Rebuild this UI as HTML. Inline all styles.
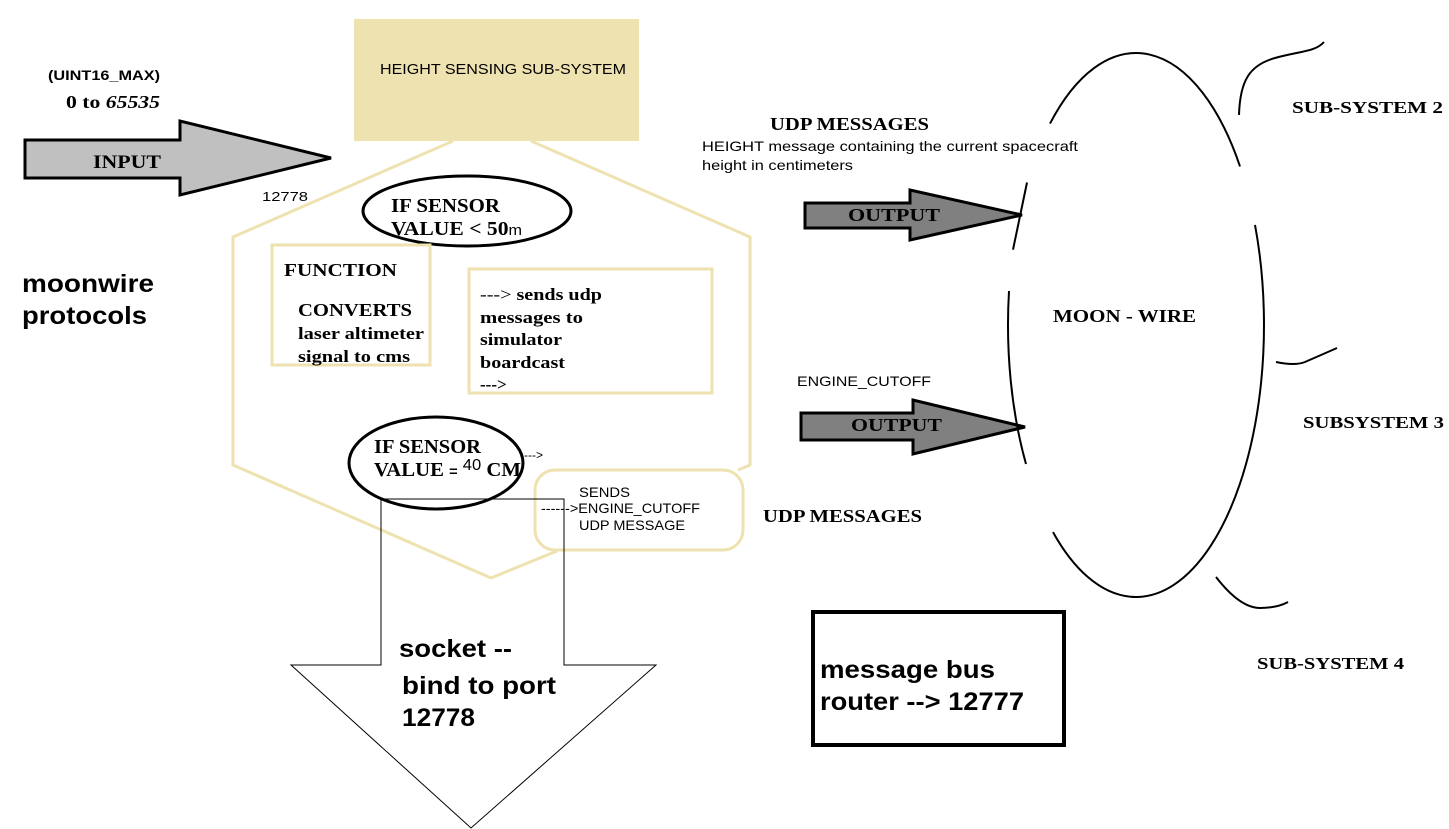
<!DOCTYPE html>
<html><head><meta charset="utf-8"><style>
html,body{margin:0;padding:0;background:#fff;}
svg{display:block;}
.s{font-family:"Liberation Serif",serif;font-weight:bold;}
.a{font-family:"Liberation Sans",sans-serif;}
.ab{font-family:"Liberation Sans",sans-serif;font-weight:bold;}
</style></head><body>
<svg width="1449" height="829" viewBox="0 0 1449 829" xmlns="http://www.w3.org/2000/svg">
<polyline points="453,141 233,237 233,465 491,578 557,551" fill="none" stroke="#EEE2B0" stroke-width="3"/>
<polyline points="531,141 750,237 750,465 738,470" fill="none" stroke="#EEE2B0" stroke-width="3"/>
<rect x="354" y="19" width="285" height="122" fill="#EEE2B0"/>
<text x="380" y="74" class="a" font-size="15" textLength="246" lengthAdjust="spacingAndGlyphs">HEIGHT SENSING SUB-SYSTEM</text>

<text x="48" y="80" class="ab" font-size="14" textLength="112" lengthAdjust="spacingAndGlyphs">(UINT16_MAX)</text>
<text x="66" y="108" class="s" font-size="18" textLength="94" lengthAdjust="spacingAndGlyphs">0 to <tspan font-style="italic">65535</tspan></text>
<polygon points="25,140 180,140 180,121 331,158 180,195 180,178 25,178" fill="#C0C0C0" stroke="#000" stroke-width="3"/>
<text x="93" y="168" class="s" font-size="19" textLength="68" lengthAdjust="spacingAndGlyphs">INPUT</text>
<text x="262" y="201" class="a" font-size="13" textLength="46" lengthAdjust="spacingAndGlyphs">12778</text>

<text x="22" y="292" class="ab" font-size="25" textLength="132" lengthAdjust="spacingAndGlyphs">moonwire</text>
<text x="22" y="324" class="ab" font-size="25" textLength="125" lengthAdjust="spacingAndGlyphs">protocols</text>

<ellipse cx="467" cy="211" rx="104" ry="35" fill="none" stroke="#000" stroke-width="3"/>
<text x="391" y="212" class="s" font-size="20" textLength="109" lengthAdjust="spacingAndGlyphs">IF SENSOR</text>
<text x="391" y="235" class="s" font-size="20" textLength="131" lengthAdjust="spacingAndGlyphs">VALUE &lt; 50<tspan class="a" font-weight="normal" font-size="15">m</tspan></text>

<rect x="272" y="245" width="158" height="120" fill="none" stroke="#EEE2B0" stroke-width="3"/>
<text x="284" y="276" class="s" font-size="18" textLength="113" lengthAdjust="spacingAndGlyphs">FUNCTION</text>
<text x="298" y="316" class="s" font-size="18" textLength="114" lengthAdjust="spacingAndGlyphs">CONVERTS</text>
<text x="298" y="339" class="s" font-size="17" textLength="126" lengthAdjust="spacingAndGlyphs">laser altimeter</text>
<text x="298" y="362" class="s" font-size="17" textLength="112" lengthAdjust="spacingAndGlyphs">signal to cms</text>

<rect x="469" y="269" width="243" height="124" fill="none" stroke="#EEE2B0" stroke-width="3"/>
<text x="480" y="300" class="s" font-size="17" textLength="122" lengthAdjust="spacingAndGlyphs"><tspan font-weight="normal">---&gt;</tspan> sends udp</text>
<text x="480" y="323" class="s" font-size="17" textLength="103" lengthAdjust="spacingAndGlyphs">messages to</text>
<text x="480" y="345" class="s" font-size="17" textLength="82" lengthAdjust="spacingAndGlyphs">simulator</text>
<text x="480" y="368" class="s" font-size="17" textLength="85" lengthAdjust="spacingAndGlyphs">boardcast</text>
<text x="480" y="390" class="s" font-size="17" font-weight="normal">---&gt;</text>

<rect x="535" y="470" width="208" height="80" rx="20" fill="#fff" stroke="#EEE2B0" stroke-width="3"/>
<polygon points="381,499 564,499 564,665 656,665 471,828 291,665 381,665" fill="none" stroke="#000" stroke-width="1"/>
<ellipse cx="436" cy="463" rx="87" ry="46" fill="none" stroke="#000" stroke-width="3"/>
<text x="374" y="453" class="s" font-size="20" textLength="107" lengthAdjust="spacingAndGlyphs">IF SENSOR</text>
<text x="374" y="476" class="s" font-size="20" textLength="147" lengthAdjust="spacingAndGlyphs">VALUE <tspan class="a" font-size="14">=</tspan> <tspan class="a" font-weight="normal" font-size="16" dy="-6">40</tspan><tspan dy="6"> CM</tspan></text>
<text x="524" y="459" class="a" font-size="12">---&gt;</text>
<text x="579" y="497" class="a" font-size="14" textLength="51" lengthAdjust="spacingAndGlyphs">SENDS</text>
<text x="541" y="513" class="a" font-size="14" textLength="159" lengthAdjust="spacingAndGlyphs">------&gt;ENGINE_CUTOFF</text>
<text x="579" y="530" class="a" font-size="14" textLength="106" lengthAdjust="spacingAndGlyphs">UDP MESSAGE</text>

<text x="399" y="657" class="ab" font-size="25" textLength="113" lengthAdjust="spacingAndGlyphs">socket --</text>
<text x="402" y="694" class="ab" font-size="25" textLength="154" lengthAdjust="spacingAndGlyphs">bind to port</text>
<text x="402" y="726" class="ab" font-size="25" textLength="73" lengthAdjust="spacingAndGlyphs">12778</text>

<text x="770" y="130" class="s" font-size="18" textLength="159" lengthAdjust="spacingAndGlyphs">UDP MESSAGES</text>
<text x="702" y="151" class="a" font-size="14" textLength="376" lengthAdjust="spacingAndGlyphs">HEIGHT message containing the current spacecraft</text>
<text x="702" y="170" class="a" font-size="14" textLength="151" lengthAdjust="spacingAndGlyphs">height in centimeters</text>
<polygon points="805,203 910,203 910,190 1022,215 910,240 910,228 805,228" fill="#808080" stroke="#000" stroke-width="3"/>
<text x="848" y="221" class="s" font-size="18" textLength="92" lengthAdjust="spacingAndGlyphs">OUTPUT</text>
<text x="797" y="386" class="a" font-size="14" textLength="134" lengthAdjust="spacingAndGlyphs">ENGINE_CUTOFF</text>
<polygon points="801,413 913,413 913,400 1025,427 913,454 913,440 801,440" fill="#808080" stroke="#000" stroke-width="3"/>
<text x="851" y="431" class="s" font-size="18" textLength="91" lengthAdjust="spacingAndGlyphs">OUTPUT</text>
<text x="763" y="522" class="s" font-size="18" textLength="159" lengthAdjust="spacingAndGlyphs">UDP MESSAGES</text>

<g fill="none" stroke="#000" stroke-width="2">
<path d="M1050,123.6 A128,272 0 0 1 1240,166.4"/>
<path d="M1255,224.9 A128,272 0 0 1 1053,532.1"/>
<path d="M1027,182.5 L1013,249.7"/>
<path d="M1009,291 A128,272 0 0 0 1026,464"/>
<path d="M1239,115 C1240,80 1250,65 1275,58 S1315,52 1324,42"/>
<path d="M1276,362 Q1295,366 1305,362 L1337,348"/>
<path d="M1216,577 Q1240,608 1260,608 Q1277,608 1288,602"/>
</g>
<text x="1292" y="113" class="s" font-size="17" textLength="151" lengthAdjust="spacingAndGlyphs">SUB-SYSTEM 2</text>
<text x="1053" y="322" class="s" font-size="18" textLength="143" lengthAdjust="spacingAndGlyphs">MOON - WIRE</text>
<text x="1303" y="428" class="s" font-size="17" textLength="141" lengthAdjust="spacingAndGlyphs">SUBSYSTEM 3</text>
<text x="1257" y="669" class="s" font-size="17" textLength="147" lengthAdjust="spacingAndGlyphs">SUB-SYSTEM 4</text>

<rect x="813" y="612" width="251" height="133" fill="none" stroke="#000" stroke-width="4"/>
<text x="820" y="678" class="ab" font-size="25" textLength="175" lengthAdjust="spacingAndGlyphs">message bus</text>
<text x="820" y="710" class="ab" font-size="25" textLength="204" lengthAdjust="spacingAndGlyphs">router --&gt; 12777</text>
</svg>
</body></html>
